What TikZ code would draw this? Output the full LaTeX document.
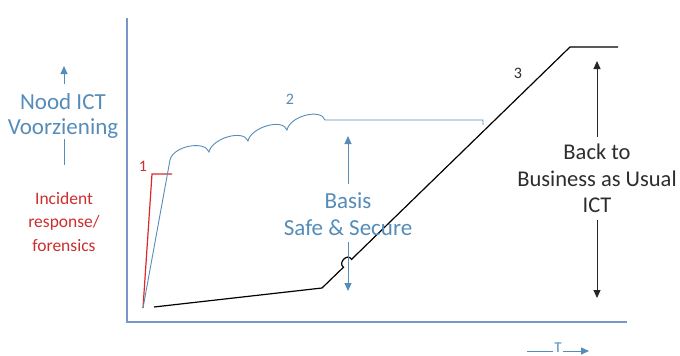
\documentclass[tikz,border=0pt]{standalone}
\usepackage{fontspec}
\setmainfont{Carlito}
\usetikzlibrary{arrows.meta}
\definecolor{axisblue}{RGB}{120,150,200}
\definecolor{txtblue}{RGB}{85,140,185}
\definecolor{linered}{RGB}{220,40,40}
\definecolor{txtred}{RGB}{205,45,45}
\definecolor{txtgray}{RGB}{45,45,45}
\tikzset{
  axis/.style={draw=axisblue,line width=1.2pt},
  blueline/.style={draw=txtblue,line width=0.9pt},
  redline/.style={draw=linered,line width=1.2pt},
  blackline/.style={draw=black,line width=1.2pt},
  bluearr/.style={draw=txtblue,line width=1pt,-{Triangle[width=7pt,length=8pt]}},
  blackarr/.style={draw=black!85,line width=1pt,-{Triangle[width=7pt,length=8pt]}},
  lbl/.style={align=center,inner sep=0pt},
  num/.style={font=\fontsize{16}{18}\selectfont,inner sep=0pt}
}
\begin{document}
\begin{tikzpicture}[x=1pt,y=-1pt]
\useasboundingbox (0,0) rectangle (680,356);
% axes
\coordinate (ytop) at (127,18);
\coordinate (orig) at (127,322);
\coordinate (xend) at (627,322);
\draw[axis] (ytop) -- (orig) -- (xend);
% red line 1
\coordinate (r0) at (143,308);
\coordinate (r1) at (152,174);
\coordinate (r2) at (172,174);
\draw[redline] (r0) -- (r1) -- (r2);
\node[num,text=txtred] (n1) at (143,166) {1};
% blue line 2
\coordinate (b1) at (170,160);
\coordinate (c1) at (209,152);
\coordinate (c2) at (248,141);
\coordinate (c3) at (287,130);
\coordinate (c4) at (325,120);
\coordinate (b5) at (483,120);
\coordinate (b6) at (483,125);
\draw[blueline] (r0) -- (b1)
  .. controls +(3,-14) and +(-4,-12) .. (c1)
  .. controls +(3,-14) and +(-4,-12) .. (c2)
  .. controls +(3,-14) and +(-4,-12) .. (c3)
  .. controls +(3,-14) and +(-4,-12) .. (c4)
  -- (b5) -- (b6);
\node[num,text=txtblue] (n2) at (290,99) {2};
% black line 3
\coordinate (k0) at (154,307);
\coordinate (k1) at (322,288);
\coordinate (j0) at (343.5,267.2);
\coordinate (j1) at (351.5,259.4);
\coordinate (k2) at (570,47);
\coordinate (k3) at (618,47);
\draw[blackline] (k0) -- (k1) -- (j0) .. controls +(-6,-4) and +(-4,-7) .. (j1) -- (k2) -- (k3);
\node[num,text=txtgray] (n3) at (518,73) {3};
% Basis arrows
\node[lbl,text=txtblue,font=\fontsize{23}{27}\selectfont] (basis) at (348,214) {Basis\\Safe \& Secure};
\coordinate (ba1) at (348,184);
\coordinate (ba2) at (348,136);
\coordinate (ba3) at (348,242);
\coordinate (ba4) at (348,291);
\draw[bluearr] (ba1) -- (ba2);
\draw[bluearr] (ba3) -- (ba4);
% Back to business arrows
\node[lbl,text=txtgray,font=\fontsize{22.5}{26.5}\selectfont] (back) at (597,178.5) {Back to\\Business as Usual\\ICT};
\coordinate (bb1) at (597,137);
\coordinate (bb2) at (597,61);
\coordinate (bb3) at (597,220);
\coordinate (bb4) at (597,298);
\draw[blackarr] (bb1) -- (bb2);
\draw[blackarr] (bb3) -- (bb4);
% left labels
\node[lbl,text=txtblue,font=\fontsize{23}{25}\selectfont] (nood) at (63,115.5) {Nood ICT\\Voorziening};
\coordinate (na1) at (64,84);
\coordinate (na2) at (64,66);
\coordinate (nl1) at (64,139);
\coordinate (nl2) at (64,165);
\draw[bluearr] (na1) -- (na2);
\draw[blueline] (nl1) -- (nl2);
\node[lbl,text=txtred,font=\fontsize{17.5}{23.5}\selectfont] (inc) at (64,221.5) {Incident\\response/\\forensics};
% T arrow
\node[text=txtblue,inner sep=1pt,font=\fontsize{15}{16}\selectfont] (T) at (558,348) {T};
\coordinate (t0) at (527,351);
\coordinate (t1) at (589,351);
\draw[blueline] (t0) -- (T.west |- t0);
\draw[bluearr] (T.east |- t1) -- (t1);
\end{tikzpicture}
\end{document}
